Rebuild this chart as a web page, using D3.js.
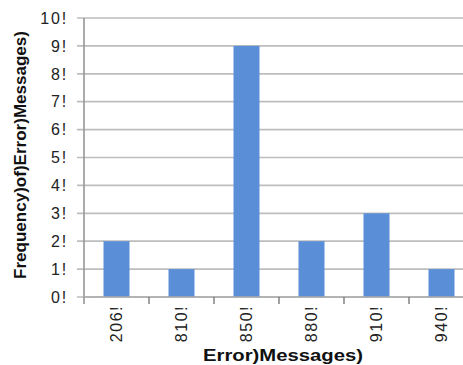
<!DOCTYPE html>
<html>
<head>
<meta charset="utf-8">
<script src="https://cdn.jsdelivr.net/npm/d3@7"></script>
<style>
  html, body { margin: 0; padding: 0; background: #fff; }
  svg { display: block; font-family: "Liberation Sans", Arial, sans-serif; }
</style>
</head>
<body>
<svg id="chart" width="463" height="365"></svg>
<script>
// Error message codes and how often each one occurred
const categories = ["206!", "810!", "850!", "880!", "910!", "940!"];
const frequencies = [2, 1, 9, 2, 3, 1];
const yTickValues = [0, 1, 2, 3, 4, 5, 6, 7, 8, 9, 10];
const yTickLabels = ["0!", "1!", "2!", "3!", "4!", "5!", "6!", "7!", "8!", "9!", "10!"];
const xTitle = "Error)Messages)";
const yTitle = "Frequency)of)Error)Messages)";

const svg = d3.select("#chart");
const plot = { left: 84, top: 18, right: 474, bottom: 297 };

const x = d3.scaleBand()
  .domain(categories)
  .range([plot.left, plot.right])
  .paddingInner(0.6)
  .paddingOuter(0.3);

const y = d3.scaleLinear()
  .domain([0, 10])
  .range([plot.bottom, plot.top]);

// horizontal gridlines, running a little left of the axis as tick marks
svg.append("g")
  .selectAll("line")
  .data(yTickValues)
  .join("line")
  .attr("x1", plot.left - 7)
  .attr("x2", plot.right)
  .attr("y1", d => y(d))
  .attr("y2", d => y(d))
  .attr("stroke", "#bdbdbd")
  .attr("stroke-width", 1.7);

// y tick labels
svg.append("g")
  .selectAll("text")
  .data(yTickValues)
  .join("text")
  .attr("x", 68)
  .attr("y", d => y(d))
  .attr("dy", "0.36em")
  .attr("text-anchor", "end")
  .attr("font-size", 16)
  .attr("letter-spacing", 1.8)
  .attr("fill", "#222")
  .text((d, i) => yTickLabels[i]);

// bars
svg.append("g")
  .selectAll("rect")
  .data(frequencies)
  .join("rect")
  .attr("x", (d, i) => x(categories[i]))
  .attr("y", d => y(d))
  .attr("width", x.bandwidth())
  .attr("height", d => y(0) - y(d))
  .attr("fill", "#5a8fd7");

// axes lines
svg.append("line")
  .attr("x1", plot.left).attr("x2", plot.left)
  .attr("y1", plot.top).attr("y2", plot.bottom + 7)
  .attr("stroke", "#969696").attr("stroke-width", 1.6);
svg.append("line")
  .attr("x1", plot.left).attr("x2", plot.right)
  .attr("y1", plot.bottom).attr("y2", plot.bottom)
  .attr("stroke", "#aaaaaa").attr("stroke-width", 1.6);

// category boundary ticks below the x axis
const step = x.step();
const boundaries = categories.slice(1).map((c, i) => x(c) - x.paddingInner() * step / 2);
svg.append("g")
  .selectAll("line")
  .data(boundaries)
  .join("line")
  .attr("x1", d => d).attr("x2", d => d)
  .attr("y1", plot.bottom).attr("y2", plot.bottom + 7)
  .attr("stroke", "#7a7a7a").attr("stroke-width", 1.4);

// rotated category labels
svg.append("g")
  .selectAll("text")
  .data(categories)
  .join("text")
  .attr("transform", d => `translate(${x(d) + x.bandwidth() / 2},305) rotate(-90)`)
  .attr("dy", "0.36em")
  .attr("text-anchor", "end")
  .attr("font-size", 16)
  .attr("letter-spacing", 1.5)
  .attr("fill", "#222")
  .text(d => d);

// axis titles
svg.append("text")
  .attr("x", 283)
  .attr("y", 361)
  .attr("text-anchor", "middle")
  .attr("font-size", 17)
  .attr("font-weight", "bold")
  .attr("textLength", 160)
  .attr("lengthAdjust", "spacingAndGlyphs")
  .attr("fill", "#111")
  .text(xTitle);

svg.append("text")
  .attr("transform", "translate(26,155) rotate(-90)")
  .attr("text-anchor", "middle")
  .attr("font-size", 16)
  .attr("font-weight", "bold")
  .attr("textLength", 248)
  .attr("lengthAdjust", "spacingAndGlyphs")
  .attr("fill", "#111")
  .text(yTitle);
</script>
</body>
</html>
